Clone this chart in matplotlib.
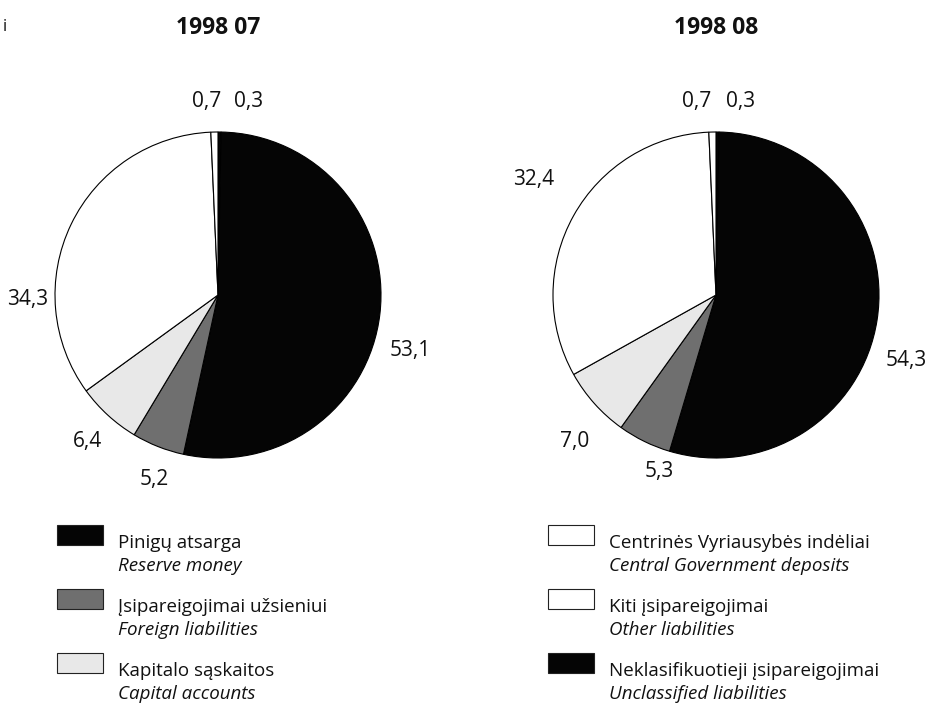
import matplotlib

matplotlib.use("Agg")
import matplotlib.pyplot as plt
from matplotlib.patches import Rectangle

plt.rcParams["font.family"] = ["Open Sans", "DejaVu Sans"]

# slice order: clockwise from 12 o'clock
KEYS = ["unclassified", "reserve", "foreign", "capital", "central", "other"]
JUL_VALUES = [0.3, 53.1, 5.2, 6.4, 34.3, 0.7]
AUG_VALUES = [0.3, 54.3, 5.3, 7.0, 32.4, 0.7]
TITLES = ["1998 07", "1998 08"]

COLORS = {
    "reserve": "#050505",
    "foreign": "#6f6f6f",
    "capital": "#e8e8e8",
    "central": "#ffffff",
    "other": "#ffffff",
    "unclassified": "#050505",
}

LEGEND_LEFT = [
    ("reserve", "Pinigų atsarga", "Reserve money"),
    ("foreign", "Įsipareigojimai užsieniui", "Foreign liabilities"),
    ("capital", "Kapitalo sąskaitos", "Capital accounts"),
]
LEGEND_RIGHT = [
    ("central", "Centrinės Vyriausybės indėliai", "Central Government deposits"),
    ("other", "Kiti įsipareigojimai", "Other liabilities"),
    ("unclassified", "Neklasifikuotieji įsipareigojimai", "Unclassified liabilities"),
]

# label anchor spots (unit-radius coords), same order as KEYS
LABEL_POS = [
    [(0.19, 1.19), (1.18, -0.34), (-0.39, -1.13), (-0.80, -0.90), (-1.17, -0.03), (-0.07, 1.19)],
    [(0.15, 1.19), (1.17, -0.40), (-0.35, -1.08), (-0.87, -0.90), (-1.12, 0.71), (-0.12, 1.19)],
]

W, H = 947, 707
R = 163
CENTERS = [(218, 295), (716, 295)]


def fmt(v):
    return f"{v:.1f}".replace(".", ",")


def main():
    fig = plt.figure(figsize=(W / 100, H / 100), dpi=100)

    for (cx, cy), vals, title, lpos in zip(CENTERS, [JUL_VALUES, AUG_VALUES], TITLES, LABEL_POS):
        half = 1.6 * R
        ax = fig.add_axes([(cx - half) / W, (H - cy - half) / H, 2 * half / W, 2 * half / H])
        ax.pie(vals, colors=[COLORS[k] for k in KEYS], startangle=90, counterclock=False,
               wedgeprops=dict(edgecolor="black", linewidth=0.8))
        ax.set_xlim(-1.6, 1.6)
        ax.set_ylim(-1.6, 1.6)
        ax.set_aspect("equal")
        ax.axis("off")
        for v, (lx, ly) in zip(vals, lpos):
            ax.text(lx, ly, fmt(v), ha="center", va="center", fontsize=15, color="#111111")
        fig.text(cx / W, 1 - 28 / H, title, ha="center", va="center",
                 fontsize=16.5, fontweight="bold", color="#111111")

    fig.text(3 / W, 1 - 27 / H, "i", ha="left", va="center", fontsize=12, color="#111111")

    lax = fig.add_axes([0, 0, 1, 1])
    lax.set_xlim(0, W)
    lax.set_ylim(H, 0)
    lax.axis("off")
    for x0, entries in [(57, LEGEND_LEFT), (548, LEGEND_RIGHT)]:
        for i, (key, lt, en) in enumerate(entries):
            y0 = 525 + i * 64
            lax.add_patch(Rectangle((x0, y0), 46, 20, facecolor=COLORS[key],
                                    edgecolor="#222222", linewidth=0.8))
            lax.text(x0 + 61, y0 + 18, lt, ha="left", va="center", fontsize=13.5, color="#111111")
            lax.text(x0 + 61, y0 + 41, en, ha="left", va="center", fontsize=13.5,
                     style="italic", color="#111111")

    fig.savefig("out.png", dpi=100)
    plt.close(fig)


if __name__ == "__main__":
    main()
